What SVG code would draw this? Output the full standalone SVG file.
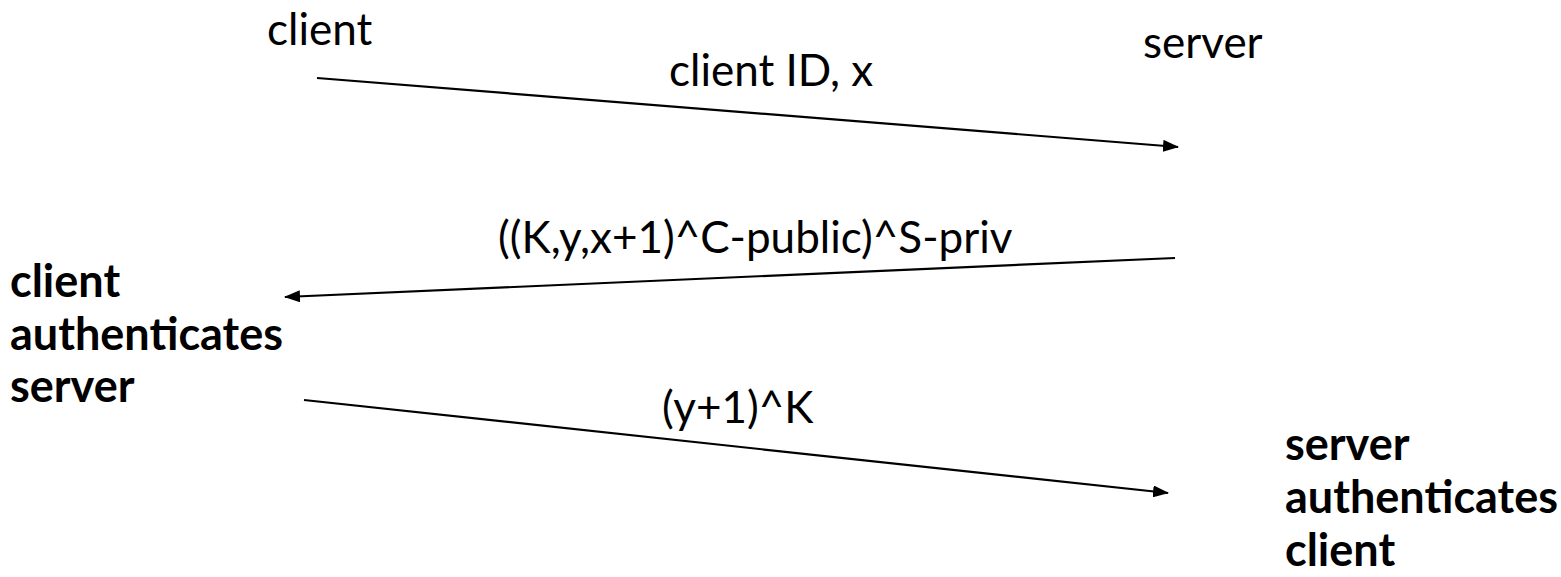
<svg xmlns="http://www.w3.org/2000/svg" width="1561" height="577" viewBox="0 0 1561 577">
<defs>
<marker id="ah" markerWidth="16" markerHeight="12" refX="15" refY="6" orient="auto" markerUnits="userSpaceOnUse">
<path d="M0,0 L16,6 L0,12 Z" fill="#000"/>
</marker>
<style>
.t{font-family:Lato,"Liberation Sans",sans-serif;font-size:44px;fill:#000}
.b{font-family:Lato,"Liberation Sans",sans-serif;font-size:45px;font-weight:bold;fill:#000}
.c{stroke:#000;stroke-width:2.2;fill:none;marker-end:url(#ah)}
</style>
</defs>
<rect width="1561" height="577" fill="#fff"/>
<g id="client"><text class="t" x="267" y="45">client</text></g>
<g id="server"><text class="t" x="1143" y="58">server</text></g>
<g id="client-auth"><text class="b" x="10" y="297">client</text><text class="b" x="10" y="350">authenticates</text><text class="b" x="10" y="402">server</text></g>
<g id="server-auth"><text class="b" x="1285" y="460">server</text><text class="b" x="1285" y="513">authenticates</text><text class="b" x="1285" y="566">client</text></g>
<g id="connectors">
<line class="c" x1="317" y1="78" x2="1178" y2="147"/>
<line class="c" x1="1175" y1="258" x2="285" y2="297"/>
<line class="c" x1="304" y1="400" x2="1168" y2="493"/>
<text class="t" x="669" y="86">client ID, x</text>
<text class="t" x="498" y="253">((K,y,x+1)^C-public)^S-priv</text>
<text class="t" x="662" y="423">(y+1)^K</text>
</g>
</svg>
